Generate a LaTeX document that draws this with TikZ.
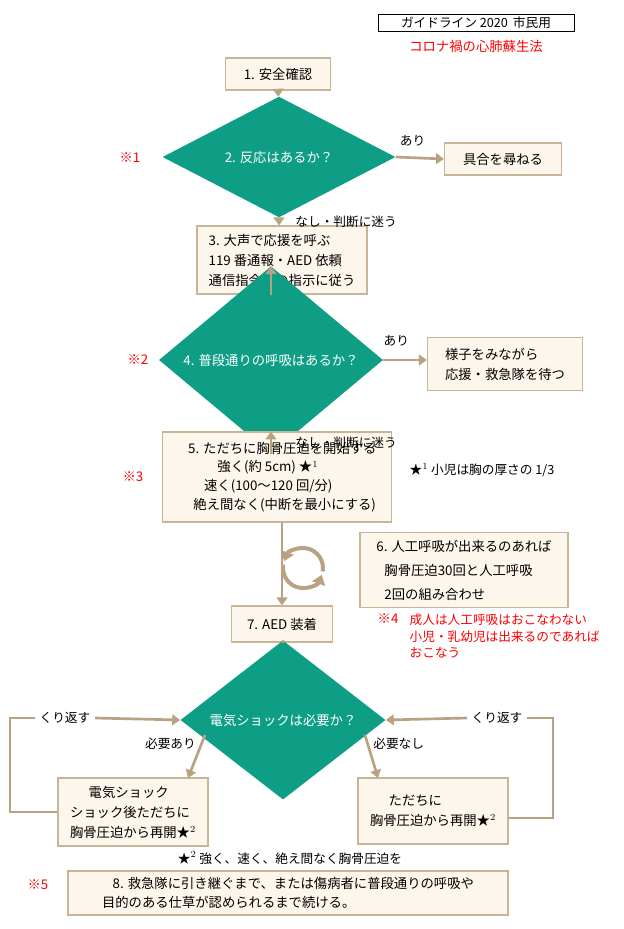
\documentclass[tikz,border=0pt]{standalone}
\usepackage{fontspec}
\setmainfont{Noto Sans CJK JP}
\usetikzlibrary{shapes.geometric,arrows.meta}
\definecolor{boxfill}{RGB}{253,246,236}
\definecolor{boxline}{RGB}{200,180,150}
\definecolor{flow}{RGB}{185,162,130}
\definecolor{teal}{RGB}{14,158,133}
\newcommand\px{*0.75pt}
\tikzset{
  stepbox/.style={draw=boxline,fill=boxfill,line width=0.8pt,inner sep=4pt,align=left,font=\fontsize{10}{15}\selectfont},
  ask/.style={diamond,fill=teal,text=white,inner sep=0pt,font=\fontsize{10}{12}\selectfont},
  flowline/.style={draw=flow,line width=2pt,-{Triangle[length=6pt,width=8pt]}},
  plain/.style={draw=flow,line width=2pt},
  lbl/.style={font=\fontsize{9.5}{12}\selectfont},
  notemark/.style={text=red,font=\fontsize{10}{12}\selectfont},
}
\begin{document}
\begin{tikzpicture}[x=0.75pt,y=-0.75pt]
\useasboundingbox (0,0) rectangle (624,929);
% title
\node[draw,line width=0.6pt,inner sep=2pt,minimum width=196\px,font=\fontsize{9.5}{11}\selectfont] (title) at (476,23) {ガイドライン 2020\, 市民用};
\node[text=red,font=\fontsize{10}{12}\selectfont] (sub) at (476,46) {コロナ禍の心肺蘇生法};
% steps
\node[stepbox,minimum width=105\px,minimum height=32\px,align=center] (s1) at (278,74) {1. 安全確認};
\node[ask,minimum width=233\px,minimum height=70\px] (s2) at (279,157) {2. 反応はあるか？};
\node[stepbox,minimum width=117\px,minimum height=32\px,align=center] (s2r) at (503,159) {具合を尋ねる};
\node[stepbox,minimum width=170\px,minimum height=68\px] (s3) at (282,260) {3. 大声で応援を呼ぶ\\119 番通報・AED 依頼\\通信指令員の指示に従う};
\node[ask,minimum width=224\px,minimum height=70\px] (s4) at (271,360) {4. 普段通りの呼吸はあるか？};
\node[stepbox,minimum width=155\px,minimum height=53\px] (s4r) at (505,364) {様子をみながら\\応援・救急隊を待つ};
\node[stepbox,minimum width=229\px,minimum height=90\px,font=\fontsize{10}{14}\selectfont] (s5) at (277,477) {\hspace*{8pt}5. ただちに胸骨圧迫を開始する\\\hspace*{30pt}強く(約 5cm) ★$^{1}$\\\hspace*{20pt}速く(100～120 回/分)\\\hspace*{12pt}絶え間なく(中断を最小にする)};
\node[stepbox,minimum width=208\px,minimum height=75\px,font=\fontsize{10}{18}\selectfont] (s6) at (464,570) {6. 人工呼吸が出来るのあれば\\\hspace*{6pt}胸骨圧迫30回と人工呼吸\\\hspace*{6pt}2回の組み合わせ};
\node[stepbox,minimum width=101\px,minimum height=36\px,align=center] (s7) at (282,624) {7. AED 装着};
\node[ask,minimum width=205\px,minimum height=75\px] (shock) at (283,720) {電気ショックは必要か？};
\node[stepbox,minimum width=150\px,minimum height=68\px] (yes) at (133,812) {\hspace*{14pt}電気ショック\\ショック後ただちに\\胸骨圧迫から再開★$^{2}$};
\node[stepbox,minimum width=150\px,minimum height=66\px] (no) at (433,811) {\hspace*{14pt}ただちに\\胸骨圧迫から再開★$^{2}$};
\node[stepbox,minimum width=440\px,minimum height=44\px,font=\fontsize{10}{14}\selectfont] (s8) at (288,893) {\hspace*{8pt}8. 救急隊に引き継ぐまで、または傷病者に普段通りの呼吸や\\目的のある仕草が認められるまで続ける。};
% marks and notes
\node[notemark] (m1) at (130,158) {※1};
\node[notemark] (m2) at (138,360) {※2};
\node[notemark] (m3) at (133,477) {※3};
\node[notemark] (m5) at (38,885) {※5};
\node[notemark,anchor=north west] (m4) at (373,609) {※4};
\node[text=red,anchor=north west,align=left,font=\fontsize{9.5}{12.5}\selectfont] (n4) at (405,609) {成人は人工呼吸はおこなわない\\小児・乳幼児は出来るのであれば\\おこなう};
\node[lbl,anchor=west] (n1) at (405,470) {★$^{1}$ 小児は胸の厚さの 1/3};
\node[lbl] (n2) at (290,858) {★$^{2}$ 強く、速く、絶え間なく胸骨圧迫を};
% flow
\draw[flowline] (s1) -- (s2);
\draw[flowline] (s2.east) -- node[lbl,above,pos=0.35,yshift=4pt] {あり} (s2r.west);
\draw[flowline] (s2.south) -- node[lbl,right,xshift=8pt] {なし・判断に迷う} (s3.north -| s2.south);
\draw[flowline] (s3.south -| s4.north) -- (s4.north);
\draw[flowline] (s4.east) -- node[lbl,above,pos=0.3,yshift=6pt] {あり} (s4r.west |- s4.east);
\draw[flowline] (s4.south) -- node[lbl,right,xshift=14pt] {なし・判断に迷う} (s5.north -| s4.south);
\draw[flowline] (s5.south -| s7.north) -- (s7.north);
\draw[plain] (s7.south -| shock.north) -- (shock.north);
% cycle
\coordinate (cyc) at (303,568);
\draw[draw=flow,line width=3pt,-{Triangle[length=7pt,width=10pt]}] ([shift={(10:20)}]cyc) arc[start angle=10,end angle=-160,radius=20];
\draw[draw=flow,line width=3pt,-{Triangle[length=7pt,width=10pt]}] ([shift={(190:20)}]cyc) arc[start angle=190,end angle=20,radius=20];
% branches
\draw[flowline,draw=flow] (205,735) -- node[lbl,left,pos=0.2] {必要あり} (188,778);
\draw[flowline] (365,735) -- node[lbl,right,pos=0.2] {必要なし} (378,778);
% repeat loops
\coordinate (lb) at (10,812);
\coordinate (lt) at (10,718);
\coordinate (rb) at (553,818);
\coordinate (rt) at (553,718);
\node[lbl] (rep1) at (65,718) {くり返す};
\node[lbl] (rep2) at (497,718) {くり返す};
\draw[plain] (yes.west |- lb) -- (lb) -- (lt) -- (rep1.west);
\draw[flowline] (rep1.east) -- (shock.west);
\draw[plain] (no.east |- rb) -- (rb) -- (rt) -- (rep2.east);
\draw[flowline] (rep2.west) -- (shock.east);
\end{tikzpicture}
\end{document}
